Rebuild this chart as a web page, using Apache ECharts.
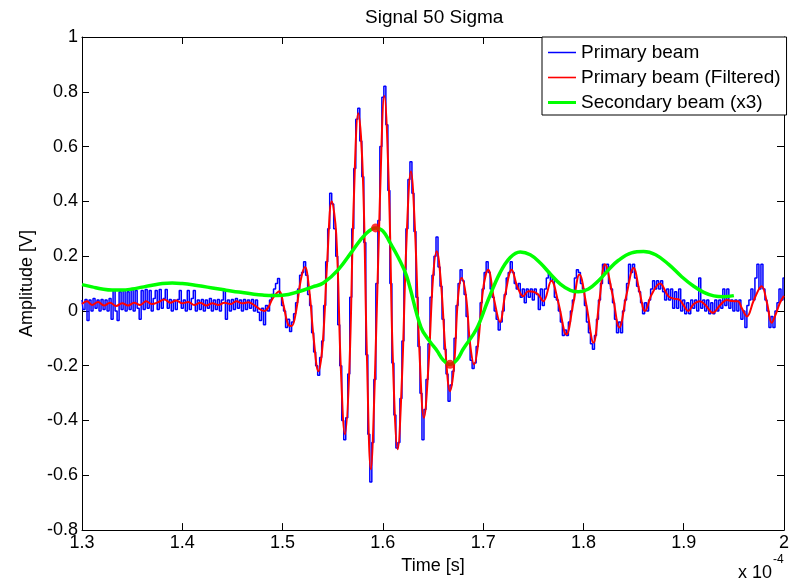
<!DOCTYPE html>
<html>
<head>
<meta charset="utf-8">
<script src="https://cdn.jsdelivr.net/npm/echarts@6/dist/echarts.min.js"></script>
<style>
  html, body { margin: 0; padding: 0; background: #fff; }
  #chart { width: 798px; height: 580px; }
</style>
</head>
<body>
<div id="chart"></div>
<script>
// time axis is in units of 1e-4 s
const xTicks = [1.3, 1.4, 1.5, 1.6, 1.7, 1.8, 1.9, 2];
const yTicks = [-0.8, -0.6, -0.4, -0.2, 0, 0.2, 0.4, 0.6, 0.8, 1];

// primary beam, raw samples every 0.002 from 1.3
const blueStart = 1.3;
const blueStep = 0.002;
const blueValues = [
  0.040, 0.005, 0.042, -0.035, 0.040, 0.000, 0.045, 0.010, 0.040, 0.000, // 1.30
  0.042, 0.005, 0.040, 0.000, 0.045, -0.030, 0.075, 0.000, -0.035, 0.070,
  0.005, 0.075, 0.000, 0.070, 0.005, 0.078, 0.000, 0.075, 0.010, -0.030,
  0.075, 0.005, 0.078, 0.010, 0.075, 0.000, 0.045, 0.075, 0.005, 0.078,
  0.010, 0.045, 0.078, 0.010, 0.042, 0.000, 0.040, 0.005, 0.042, 0.075,
  0.010, 0.040, 0.000, 0.075, 0.005, 0.045, 0.075, 0.000, 0.040, 0.005, // 1.40
  0.042, 0.000, 0.040, 0.010, 0.045, 0.000, 0.040, 0.005, 0.042, 0.000,
  0.040, 0.075, -0.030, 0.040, 0.000, 0.042, 0.005, 0.045, 0.010, 0.040,
  0.000, 0.042, 0.005, 0.040, 0.010, 0.042, 0.000, 0.040, -0.005, -0.035,
  0.010, -0.050, 0.020, 0.000, 0.040, 0.060, 0.080, 0.100, 0.118, 0.060,
  0.020, 0.000, -0.060, -0.030, -0.075, -0.040, -0.010, 0.030, 0.080, 0.130, // 1.50
  0.140, 0.180, 0.130, 0.060, 0.020, -0.080, -0.150, -0.200, -0.235, -0.170,
  -0.110, 0.020, 0.180, 0.300, 0.430, 0.390, 0.300, 0.200, -0.050, -0.200,
  -0.400, -0.470, -0.390, -0.230, 0.050, 0.300, 0.520, 0.700, 0.740, 0.620,
  0.490, 0.250, -0.160, -0.450, -0.624, -0.480, -0.250, 0.100, 0.330, 0.600,
  0.780, 0.820, 0.680, 0.440, 0.100, -0.190, -0.380, -0.500, -0.480, -0.320, // 1.60
  -0.110, 0.150, 0.300, 0.480, 0.545, 0.430, 0.290, 0.050, -0.130, -0.300,
  -0.470, -0.360, -0.250, -0.120, 0.050, 0.130, 0.200, 0.270, 0.160, 0.090,
  -0.030, -0.140, -0.230, -0.330, -0.270, -0.220, -0.100, 0.020, 0.100, 0.150,
  0.110, 0.060, -0.020, -0.110, -0.180, -0.210, -0.190, -0.130, -0.050, 0.030,
  0.080, 0.140, 0.180, 0.140, 0.080, 0.050, 0.000, -0.030, -0.070, -0.040, // 1.70
  0.000, 0.060, 0.120, 0.140, 0.180, 0.140, 0.100, 0.080, 0.100, 0.050,
  0.080, 0.030, 0.080, 0.050, 0.080, 0.040, 0.080, 0.060, 0.005, 0.080,
  0.020, 0.080, 0.120, 0.140, 0.110, 0.120, 0.050, 0.040, 0.000, -0.040,
  -0.090, -0.070, -0.090, -0.040, 0.000, 0.040, 0.120, 0.150, 0.140, 0.100,
  0.080, 0.020, -0.040, -0.080, -0.120, -0.140, -0.090, -0.030, 0.040, 0.100, // 1.80
  0.170, 0.140, 0.170, 0.100, 0.080, 0.030, -0.030, -0.080, -0.040, -0.080,
  0.000, 0.040, 0.100, 0.170, 0.140, 0.170, 0.120, 0.090, 0.070, 0.030,
  -0.010, 0.030, 0.000, 0.040, 0.080, 0.110, 0.080, 0.110, 0.080, 0.110,
  0.070, 0.040, 0.080, 0.040, 0.080, 0.010, 0.070, 0.010, 0.080, 0.000,
  0.040, -0.010, 0.030, -0.010, 0.040, 0.010, 0.040, 0.000, 0.120, 0.010, // 1.90
  0.040, 0.000, 0.040, -0.010, 0.030, -0.010, 0.040, 0.000, 0.040, 0.010,
  0.080, 0.020, 0.080, 0.010, 0.040, 0.000, 0.040, 0.000, 0.040, -0.030,
  0.000, -0.060, 0.020, 0.040, 0.080, 0.040, 0.120, 0.170, 0.080, 0.170,
  0.080, 0.040, 0.000, -0.060, -0.020, -0.060, 0.000, 0.030, 0.080, 0.040,
  0.120 // 2.00
];

// primary beam (filtered)
const redTimes = [
  1.300, 1.305, 1.310, 1.316, 1.322, 1.328, 1.334, 1.340, 1.346, 1.352,
  1.358, 1.364, 1.370, 1.376, 1.382, 1.388, 1.394, 1.400, 1.406, 1.412,
  1.418, 1.424, 1.430, 1.436, 1.442, 1.448, 1.454, 1.460, 1.466, 1.472,
  1.478, 1.482, 1.486, 1.490, 1.4967, 1.501, 1.5055, 1.509, 1.5135, 1.518,
  1.5223, 1.5265, 1.531, 1.5357, 1.540, 1.5445, 1.549, 1.5535, 1.558, 1.5622,
  1.5665, 1.571, 1.5755, 1.580, 1.584, 1.588, 1.592, 1.597, 1.6015, 1.606,
  1.610, 1.6148, 1.619, 1.6235, 1.628, 1.632, 1.6365, 1.641, 1.6455, 1.650,
  1.6537, 1.658, 1.6625, 1.667, 1.671, 1.675, 1.6786, 1.683, 1.687, 1.691,
  1.695, 1.700, 1.705, 1.711, 1.7168, 1.722, 1.7285, 1.734, 1.740, 1.745,
  1.750, 1.755, 1.760, 1.768, 1.775, 1.783, 1.790, 1.796, 1.803, 1.810,
  1.816, 1.8215, 1.829, 1.8358, 1.843, 1.850, 1.856, 1.8614, 1.868, 1.8763,
  1.8846, 1.890, 1.896, 1.900, 1.9045, 1.910, 1.916, 1.922, 1.929, 1.936,
  1.943, 1.948, 1.954, 1.958, 1.963, 1.970, 1.9777, 1.983, 1.9877, 1.992,
  1.996, 2.000
];
const redValues = [
  0.025, 0.035, 0.022, 0.033, 0.020, 0.030, 0.018, 0.028, 0.020, 0.030,
  0.022, 0.035, 0.025, 0.032, 0.042, 0.030, 0.038, 0.028, 0.033, 0.022,
  0.030, 0.020, 0.028, 0.022, 0.030, 0.025, 0.035, 0.028, 0.032, 0.020,
  0.005, 0.000, 0.015, 0.045, 0.072, 0.020, -0.050, -0.055, 0.000, 0.110,
  0.160, 0.080, -0.100, -0.220, -0.120, 0.180, 0.400, 0.280, -0.200, -0.450,
  -0.220, 0.400, 0.722, 0.500, -0.150, -0.578, -0.250, 0.400, 0.785, 0.450,
  -0.180, -0.505, -0.250, 0.250, 0.509, 0.300, -0.150, -0.390, -0.200, 0.120,
  0.218, 0.100, -0.150, -0.293, -0.200, 0.050, 0.120, 0.050, -0.120, -0.195,
  -0.120, 0.080, 0.150, 0.040, -0.040, 0.060, 0.150, 0.090, 0.054, 0.072,
  0.070, 0.060, 0.035, 0.110, 0.030, -0.086, 0.030, 0.133, 0.020, -0.116,
  0.040, 0.170, 0.060, -0.060, 0.060, 0.157, 0.070, 0.000, 0.060, 0.100,
  0.054, 0.045, 0.040, 0.020, 0.000, 0.025, 0.035, 0.020, -0.007, 0.020,
  0.040, 0.036, 0.035, 0.010, -0.020, 0.040, 0.090, 0.030, -0.043, -0.010,
  0.030, 0.055
];

// secondary beam (x3)
const greenTimes = [
  1.300, 1.310, 1.320, 1.330, 1.340, 1.350, 1.360, 1.370, 1.380, 1.390,
  1.400, 1.410, 1.420, 1.430, 1.440, 1.450, 1.460, 1.470, 1.480, 1.490,
  1.500, 1.5174, 1.530, 1.5406, 1.5556, 1.5706, 1.5822, 1.5928, 1.600, 1.607,
  1.6154, 1.6237, 1.638, 1.647, 1.654, 1.660, 1.667, 1.674, 1.680, 1.6935,
  1.705, 1.7168, 1.727, 1.737, 1.747, 1.757, 1.767, 1.777, 1.787, 1.795,
  1.805, 1.815, 1.825, 1.835, 1.848, 1.860, 1.872, 1.885, 1.898, 1.910,
  1.920, 1.930, 1.940, 1.950
];
const greenValues = [
  0.096, 0.088, 0.080, 0.076, 0.076, 0.080, 0.087, 0.094, 0.100, 0.102,
  0.100, 0.096, 0.090, 0.084, 0.078, 0.072, 0.067, 0.062, 0.058, 0.056,
  0.057, 0.072, 0.088, 0.102, 0.151, 0.224, 0.278, 0.303, 0.292, 0.250,
  0.195, 0.127, -0.060, -0.112, -0.145, -0.178, -0.195, -0.178, -0.140, -0.065,
  0.040, 0.139, 0.195, 0.215, 0.205, 0.175, 0.135, 0.098, 0.075, 0.070,
  0.080, 0.110, 0.150, 0.185, 0.212, 0.217, 0.205, 0.170, 0.125, 0.090,
  0.068, 0.055, 0.052, 0.056
];

// marked extremes on the secondary beam
const markTimes = [1.5928, 1.667];
const markValues = [0.303, -0.195];

const font = "'Liberation Sans', Arial, Helvetica, sans-serif";
const fmt = (v) => String(Math.round(v * 10) / 10);

const chart = echarts.init(document.getElementById("chart"));

const boxAxis = {
  axisLine: { show: true, onZero: false, lineStyle: { color: "#000", width: 1 } },
  axisTick: { show: true, inside: true, length: 7, lineStyle: { color: "#000" } },
  splitLine: { show: false },
};

chart.setOption({
  animation: false,
  backgroundColor: "#fff",
  textStyle: { fontFamily: font },
  grid: { left: 82, right: 14, top: 37, bottom: 49 },
  xAxis: [
    {
      type: "value", min: xTicks[0], max: xTicks[xTicks.length - 1], interval: 0.1,
      position: "bottom",
      name: "Time [s]", nameLocation: "middle", nameGap: 25,
      nameTextStyle: { color: "#000", fontSize: 18, fontFamily: font },
      ...boxAxis,
      axisLabel: { color: "#000", fontSize: 18, fontFamily: font, margin: 4, formatter: fmt },
    },
    {
      type: "value", min: xTicks[0], max: xTicks[xTicks.length - 1], interval: 0.1,
      position: "top", ...boxAxis, axisLabel: { show: false },
    },
  ],
  yAxis: [
    {
      type: "value", min: yTicks[0], max: yTicks[yTicks.length - 1], interval: 0.2,
      position: "left",
      name: "Amplitude [V]", nameLocation: "middle", nameGap: 43,
      nameTextStyle: { color: "#000", fontSize: 18, fontFamily: font },
      ...boxAxis,
      axisLabel: { color: "#000", fontSize: 18, fontFamily: font, margin: 4, formatter: fmt },
    },
    {
      type: "value", min: yTicks[0], max: yTicks[yTicks.length - 1], interval: 0.2,
      position: "right", ...boxAxis, axisLabel: { show: false },
    },
  ],
  legend: {
    data: [
      { name: "Primary beam", icon: "path://M0,0h28v1.5h-28z" },
      { name: "Primary beam (Filtered)", icon: "path://M0,0h28v1.6h-28z" },
      { name: "Secondary beam (x3)", icon: "path://M0,0h28v3h-28z" },
    ],
    orient: "vertical",
    left: 542, top: 37,
    padding: [6, 6, 3, 6],
    itemWidth: 28, itemHeight: 14, itemGap: 6,
    itemStyle: { borderWidth: 0 },
    backgroundColor: "#fff",
    borderColor: "#000", borderWidth: 1, borderRadius: 0,
    textStyle: { color: "#000", fontSize: 19, fontFamily: font, lineHeight: 18 },
  },
  graphic: [
    {
      type: "text", left: 433 - 68, top: 8,
      style: { text: "Signal 50 Sigma", fill: "#000", font: "19px " + font },
    },
    {
      type: "text", left: 738, top: 564,
      style: { text: "x 10", fill: "#000", font: "18px " + font },
    },
    {
      type: "text", left: 773, top: 554,
      style: { text: "-4", fill: "#000", font: "12px " + font },
    },
  ],
  series: [
    {
      name: "Primary beam", type: "line", symbol: "none", step: "middle",
      data: blueValues.map((v, i) => [blueStart + i * blueStep, v]),
      lineStyle: { color: "#0000ff", width: 1.5 },
      itemStyle: { color: "#0000ff" },
    },
    {
      name: "Primary beam (Filtered)", type: "line", symbol: "none", smooth: 0.4,
      data: redTimes.map((t, i) => [t, redValues[i]]),
      lineStyle: { color: "#ff0000", width: 2 },
      itemStyle: { color: "#ff0000" },
    },
    {
      name: "Secondary beam (x3)", type: "line", symbol: "none", smooth: 0.4,
      data: greenTimes.map((t, i) => [t, greenValues[i]]),
      lineStyle: { color: "#00ff00", width: 3.5 },
      itemStyle: { color: "#00ff00" },
    },
    {
      name: "marks", type: "scatter", symbol: "circle", symbolSize: 9,
      data: markTimes.map((t, i) => [t, markValues[i]]),
      itemStyle: { color: "#ff0000" },
      z: 5,
    },
  ],
});
</script>
</body>
</html>
